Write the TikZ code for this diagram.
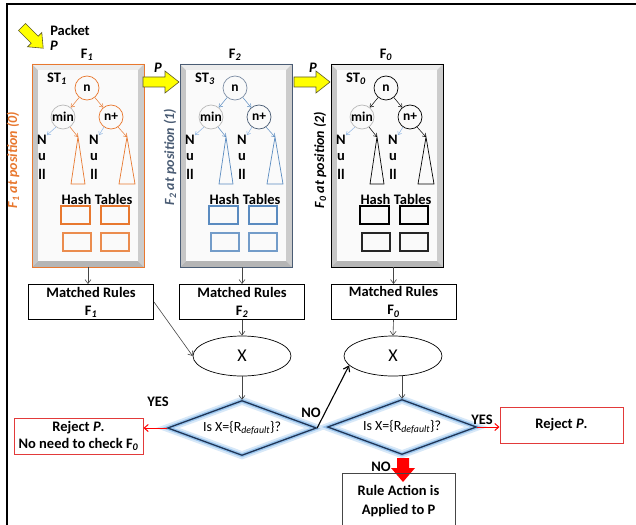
\documentclass[tikz,border=0pt]{standalone}
\usepackage{fontspec}
\setmainfont{Carlito}
\usetikzlibrary{arrows.meta,shapes.geometric}

\definecolor{forange}{HTML}{E8782F}
\definecolor{fslate}{HTML}{4A5C74}
\definecolor{fsteel}{HTML}{5A8BC0}
\definecolor{fsteelgray}{HTML}{7D8DA4}
\definecolor{nullblue}{HTML}{8DB4E2}
\definecolor{dianavy}{HTML}{1F3556}
\definecolor{diaglow}{HTML}{9CC6EE}
\definecolor{rejred}{HTML}{E23A3A}
\definecolor{padyellow}{HTML}{FFFF00}

\newcommand\lblfont{\bfseries\fontsize{14.5}{16}\selectfont}

\tikzset{
  lbl/.style={font=\lblfont, inner sep=0pt},
  treenode/.style={circle, inner sep=0pt, minimum size=24pt, line width=0.7pt,
                   font=\bfseries\fontsize{13.5}{15}\selectfont},
  tarrow/.style={-{Straight Barb[length=3pt,width=4.5pt]}, line width=0.5pt},
  flow/.style={draw=gray!55!black, line width=0.6pt, -{Straight Barb[length=4pt,width=6pt]}},
  mrbox/.style={draw, line width=1pt, minimum width=125pt, minimum height=35pt,
                align=center, inner sep=0pt, font=\bfseries\fontsize{14.5}{18}\selectfont},
  ell/.style={ellipse, draw, line width=0.7pt, minimum width=98pt, minimum height=40pt,
              inner sep=0pt, font=\fontsize{18}{20}\selectfont},
  dia/.style={diamond, aspect=2.7, draw=dianavy, line width=1.3pt,
              minimum width=149pt, minimum height=55pt, inner sep=0pt,
              font=\fontsize{14}{16}\selectfont,
              preaction={draw=diaglow!40, line width=8pt},
              preaction={draw=diaglow, line width=4pt}},
  redbox/.style={draw=rejred, line width=1pt, minimum height=36pt, align=center,
                 inner sep=0pt, font=\bfseries\fontsize{14.5}{17}\selectfont},
  redarrow/.style={draw=red, line width=1pt, -{Straight Barb[length=4pt,width=7pt]}},
  padarrow/.style={fill=padyellow, draw=olive!55!black, line width=0.6pt, line join=miter},
  hashbox/.style={line width=1.1pt},
}

% One filter unit: bevelled frame, search tree, null leaves and hash tables.
% #1 x offset, #2 name prefix, #3 frame colour, #4 tree/table colour,
% #5 root circle colour, #6 right child colour, #7 tree index, #8 filter index
\newcommand\filterunit[8]{%
\begin{scope}[shift={(#1,0)}]
  \fill[gray!45] (0,64) -- (6,70) -- (6,261) -- (0,267) -- cycle;
  \fill[gray!15] (0,64) -- (112,64) -- (106,70) -- (6,70) -- cycle;
  \fill[gray!40] (112,64) -- (112,267) -- (106,261) -- (106,70) -- cycle;
  \fill[gray!58] (0,267) -- (112,267) -- (106,261) -- (6,261) -- cycle;
  \fill[gray!4] (6,70) rectangle (106,261);
  \draw[draw=#3, line width=0.9pt] (0,64) rectangle (112,267);
  % hash tables
  \draw[hashbox, draw=#4] (29,206) rectangle (58,224) (69,206) rectangle (97,224);
  \draw[hashbox, draw=#4!85] (31,233) rectangle (59,251) (69,233) rectangle (97,251);
  % subtrees
  \coordinate (#2ta) at (46,137);
  \coordinate (#2tb) at (95,137);
  \draw[draw=#4, line width=0.7pt] (#2ta) -- ++(7,47) -- ++(-14,0) -- cycle;
  \draw[draw=#4, line width=0.7pt] (#2tb) -- ++(8,47) -- ++(-16,0) -- cycle;
  \node[lbl] (#2F) at (55,55) {F\textsubscript{\textit{#8}}};
  \node[lbl] (#2ST) at (25,79) {ST\textsubscript{\textit{#7}}};
  \node[treenode, draw=#5] (#2n) at (55,88) {n};
  \node[treenode, draw=gray!55] (#2min) at (31,117) {min};
  \node[treenode, draw=#6] (#2np) at (79,117) {n+};
  \draw[tarrow, draw=#4] (#2n) -- (#2min);
  \draw[tarrow, draw=#4] (#2n) -- (#2np);
  % null leaves
  \node[lbl] (#2Na) at (10,140) {N};
  \node[lbl] (#2ua) at (10,157) {u};
  \node[lbl] (#2la) at (10,174) {ll};
  \node[lbl] (#2Nb) at (62,140) {N};
  \node[lbl] (#2ub) at (62,157) {u};
  \node[lbl] (#2lb) at (62,174) {ll};
  \draw[tarrow, draw=nullblue] (#2min.235) -- (#2Na.north east);
  \draw[tarrow, draw=nullblue] (#2np.235) -- (#2Nb.north east);
  \draw[tarrow, draw=#4] (#2min.-55) -- (#2ta);
  \draw[tarrow, draw=#4] (#2np.-55) -- (#2tb);
  \node[lbl] (#2H) at (65,199) {Hash Tables};
  \coordinate (#2bot) at (56,267);
\end{scope}}

\begin{document}
\begin{tikzpicture}[x=1pt, y=-1pt]
  \useasboundingbox (0,0) rectangle (636,524);
  \clip (0,0) rectangle (636,524);
  \fill[white] (0,0) rectangle (636,524);

  % outer frame
  \draw[line width=1.6pt] (7,530) -- (7,4) -- (640,4);

  % incoming packet
  \draw[padarrow] (25.5,23.5) -- (38.2,36.2) -- (41.8,32.6) -- (43.2,48.2)
        -- (27.6,46.8) -- (31.2,43.2) -- (18.5,30.5) -- cycle;
  \node[lbl] (pk) at (70,30) {Packet};
  \node[lbl] (pkP) at (54,46) {\textit{P}};

  % filters
  \filterunit{32}{a}{forange}{forange}{forange}{forange}{1}{1}
  \filterunit{180}{b}{fslate}{fsteel}{fsteelgray}{fslate}{3}{2}
  \filterunit{331}{c}{black}{black}{black}{black}{0}{0}

  % position labels
  \node[lbl, rotate=90, text=forange, font=\bfseries\itshape\fontsize{14}{16}\selectfont]
       (pa) at (13,160) {F\textsubscript{\textit{1}} at position (0)};
  \node[lbl, rotate=90, text=fslate, font=\bfseries\itshape\fontsize{14}{16}\selectfont]
       (pb) at (170,157) {F\textsubscript{\textit{2}} at position (1)};
  \node[lbl, rotate=90, text=black, font=\bfseries\itshape\fontsize{14}{16}\selectfont]
       (pc) at (320,160) {F\textsubscript{\textit{0}} at position (2)};

  % packet passed between filters
  \begin{scope}[shift={(143,0)}]
    \draw[padarrow] (0,77) -- (22,77) -- (22,71) -- (36,82) -- (22,93) -- (22,87) -- (0,87) -- cycle;
  \end{scope}
  \begin{scope}[shift={(294,0)}]
    \draw[padarrow] (0,77) -- (22,77) -- (22,71) -- (36,82) -- (22,93) -- (22,87) -- (0,87) -- cycle;
  \end{scope}
  \node[lbl] (p1) at (158,68) {\textit{P}};
  \node[lbl] (p2) at (313,68) {\textit{P}};

  % matched rules
  \node[mrbox] (m1) at (91,302) {Matched Rules\\F\textsubscript{\textit{1}}};
  \node[mrbox] (m2) at (242,302) {Matched Rules\\F\textsubscript{\textit{2}}};
  \node[mrbox] (m3) at (393.5,302) {Matched Rules\\F\textsubscript{\textit{0}}};
  \draw[flow] (abot) -- (abot |- m1.north);
  \draw[flow] (m2.north |- bbot) -- (m2.north);
  \draw[flow] (m3.north |- cbot) -- (m3.north);

  % results
  \node[ell] (x1) at (242,356) {X};
  \node[ell] (x2) at (393,356) {X};
  \draw[flow] (m1.east) -- (x1.west);
  \draw[flow] (m2.south) -- (x1.north);
  \draw[flow] (m3.south) -- (x2.north);

  % decisions
  \node[dia] (d1) at (242,428) {Is X=\{R\textsubscript{\textit{default}}\}?};
  \node[dia] (d2) at (402,427) {Is X=\{R\textsubscript{\textit{default}}\}?};
  \draw[flow] (x1.south) -- (d1.north);
  \draw[flow] (x2.south -| d2.north) -- (d2.north);

  \node[redbox, minimum width=129pt] (r1) at (78.5,436)
       {Reject \textit{P}.\\No need to check F\textsubscript{\textit{0}}};
  \node[redbox, minimum width=123pt] (r2) at (561.5,425) {Reject \textit{P}.};
  \draw[redarrow] (d1.west) -- (d1.west -| r1.east);
  \draw[redarrow] (d2.east) -- (d2.east -| r2.west);
  \draw[line width=1.1pt, -{Straight Barb[length=5pt,width=7pt]}] (d1.east) -- (x2.192);

  \node[lbl] (yes1) at (158,402) {YES};
  \node[lbl] (no1) at (311,413) {NO};
  \node[lbl] (yes2) at (482,420) {YES};
  \node[lbl] (no2) at (381,467) {NO};

  % final action
  \fill[red] (397,458) -- (409,458) -- (409,468) -- (415,468) -- (403,482)
        -- (391,468) -- (397,468) -- cycle;
  \draw[gray!55!black, line width=1pt] (342,530) |- (455,473) -- (455,530);
  \node[lbl, align=center, font=\bfseries\fontsize{14.5}{19}\selectfont] (ra) at (398.5,501)
       {Rule Action is\\Applied to P};
\end{tikzpicture}
\end{document}
